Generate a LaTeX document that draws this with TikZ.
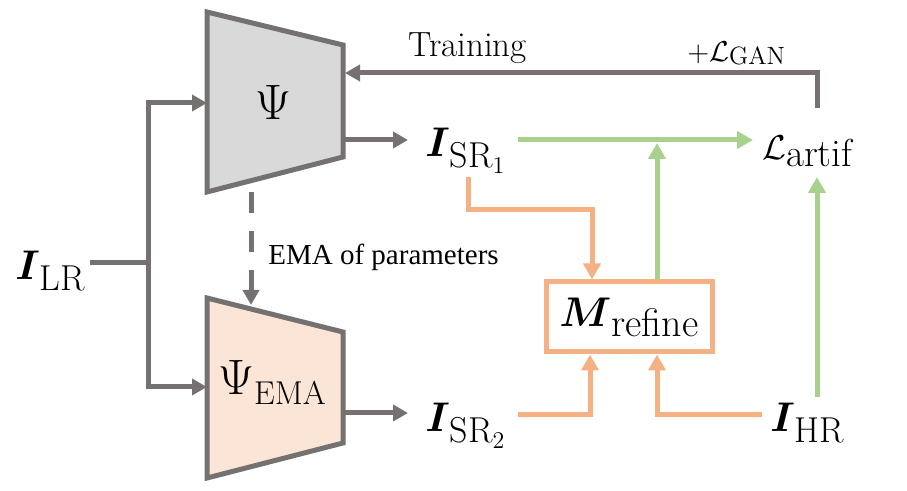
\documentclass[tikz,border=0pt]{standalone}
\usepackage{fontspec}
\usepackage{amsmath,bm}
\usepackage{tikz}
\usetikzlibrary{arrows.meta,positioning}
\newfontfamily\timesfont{Liberation Serif}
\definecolor{netgray}{HTML}{767171}
\definecolor{netfill}{HTML}{D9D9D9}
\definecolor{emafill}{HTML}{FBE5D6}
\definecolor{lossgreen}{HTML}{A9D18E}
\definecolor{maskorange}{HTML}{F4B183}
\newcommand{\fs}[1]{\fontsize{#1}{#1}\selectfont}
\newcommand{\img}[1]{{\fs{22}$\bm{I}$}\raisebox{-5.5pt}{\fs{18}#1}}

\begin{document}
\begin{tikzpicture}
[ x=0.5pt,y=-0.5pt,
		network/.style={draw=netgray,line width=2.5pt,line join=miter},
		txt/.style={inner sep=0pt,anchor=base west},
		mask/.style={rectangle,draw=maskorange,line width=2.5pt,inner sep=0pt,minimum width=83pt,minimum height=35pt},
		lineGray/.style={draw=netgray,line width=2.5pt},
		arrowOut/.style={-{Triangle[length=7.5pt,width=8pt]},draw=netgray,line width=2.5pt},
		arrowLoss/.style={-{Triangle[length=8pt,width=8.5pt]},draw=lossgreen,line width=2.5pt},
		arrowMask/.style={-{Triangle[length=8pt,width=8.5pt]},draw=maskorange,line width=2.5pt}]

	\useasboundingbox (0,0) rectangle (907,491);

	\filldraw[network,fill=netfill] (207,12) -- (343,45) -- (343,157) -- (207,192) -- cycle;
	\filldraw[network,fill=emafill] (207,298) -- (343,332) -- (343,443) -- (207,478) -- cycle;

	\node[inner sep=0pt] (psi) at (273,103) {\fs{25}$\Psi$};
	\node[txt] (psi ema) at (218,395) {{\fs{25}$\Psi$}\raisebox{-5pt}{\fs{16.5}EMA}};
	\node[txt] (lr image) at (15,280) {\img{LR}};
	\node[txt] (sr one) at (425,157) {\img{SR$_1$}};
	\node[txt] (sr two) at (425,432) {\img{SR$_2$}};
	\node[txt] (hr image) at (770,432) {\img{HR}};
	\node[txt] (artif loss) at (762,160) {{\fs{16}$\mathcal{L}$}\raisebox{-3.5pt}{\fs{19.5}artif}};
	\node[txt] (training) at (408,57) {\fs{17.5}Training};
	\node[txt] (gan loss) at (687,62) {{\fs{14}$+\mathcal{L}$}\raisebox{-1.5pt}{\fs{12.5}GAN}};
	\node[txt] (ema text) at (268,265) {\timesfont\fs{14.5}EMA of parameters};
	\node[mask] (refine box) at (629,317) {{\fs{22}$\bm{M}$}\raisebox{-5pt}{\fs{20}refine}};

	\coordinate (lr right) at (90,263);
	\coordinate (branch) at (148,263);
	\coordinate (psi in) at (207,103);
	\coordinate (ema in) at (207,387);
	\coordinate (psi out) at (343,140);
	\coordinate (sr one left) at (408,140);
	\coordinate (ema out) at (343,413);
	\coordinate (sr two left) at (408,413);
	\coordinate (loss top) at (817,108);
	\coordinate (psi back) at (345,73);
	\coordinate (ema from) at (251,192);
	\coordinate (ema to) at (251,305);
	\coordinate (sr one right) at (518,140);
	\coordinate (artif left) at (753,140);
	\coordinate (meet) at (657,143);
	\coordinate (hr top) at (817,397);
	\coordinate (artif bottom) at (817,177);
	\coordinate (sr one below) at (468,177);
	\coordinate (mask bend) at (468,210);
	\coordinate (mask one) at (592,210);
	\coordinate (sr two right) at (518,415);
	\coordinate (mask two) at (590,415);
	\coordinate (hr left) at (762,415);
	\coordinate (mask three) at (657,415);

	\draw[lineGray] (lr right) -- (branch);
	\draw[arrowOut] (branch) |- (psi in);
	\draw[arrowOut] (branch) |- (ema in);
	\draw[arrowOut] (psi out) -- (sr one left);
	\draw[arrowOut] (ema out) -- (sr two left);
	\draw[arrowOut] (loss top) |- (psi back);
	\draw[arrowOut,dash pattern=on 10.5pt off 9pt] (ema from) -- (ema to);

	\draw[arrowLoss] (sr one right) -- (artif left);
	\draw[arrowLoss] (refine box.north -| meet) -- (meet);
	\draw[arrowLoss] (hr top) -- (artif bottom);

	\draw[arrowMask] (sr one below) -- (mask bend) -- (mask one) -- (mask one |- refine box.north);
	\draw[arrowMask] (sr two right) -- (mask two) -- (mask two |- refine box.south);
	\draw[arrowMask] (hr left) -- (mask three) -- (mask three |- refine box.south);
\end{tikzpicture}
\end{document}
